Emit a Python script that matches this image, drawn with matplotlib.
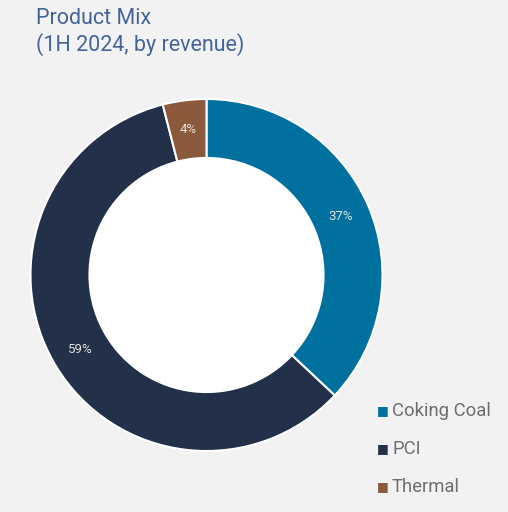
import numpy as np
import matplotlib.pyplot as plt
from matplotlib.patches import Circle

categories = ['Coking Coal', 'PCI', 'Thermal']
shares = [37, 59, 4]
colors = ['#00709E', '#22304A', '#8B5A3C']

BG = '#F2F2F2'

fig = plt.figure(figsize=(5.08, 5.12), dpi=100)
fig.patch.set_facecolor(BG)

# donut axes, placed so the ring centre sits at about (206, 275) px
cx, cy, R = 206.5, 275, 176
ax = fig.add_axes([(cx - R) / 508, (512 - cy - R) / 512, 2 * R / 508, 2 * R / 512])
ax.set_facecolor(BG)

ring = 0.335
wedges, texts = ax.pie(shares, colors=colors, startangle=90, counterclock=False,
                       radius=1.0,
                       wedgeprops=dict(width=ring, edgecolor='white', linewidth=1.5))
ax.add_patch(Circle((0, 0), 1.0 - ring, facecolor='white', edgecolor='none', zorder=0))

# percentage labels in the middle of the ring
for w, s in zip(wedges, shares):
    mid = np.deg2rad((w.theta1 + w.theta2) / 2)
    r = 1.0 - ring / 2
    ax.text(r * np.cos(mid), r * np.sin(mid), '{}%'.format(s),
            ha='center', va='center', color='#E2E2E2', fontsize=9.5,
            family='Roboto')
ax.set_xlim(-1, 1)
ax.set_ylim(-1, 1)
ax.set_aspect('equal')
ax.axis('off')

# title
fig.text(36 / 508, 1 - 19 / 512, 'Product Mix', ha='left', va='center',
         fontsize=15.5, color='#44659A', family='Roboto')
fig.text(36 / 508, 1 - 45 / 512, '(1H 2024, by revenue)', ha='left', va='center',
         fontsize=15.5, color='#44659A', family='Roboto')

# legend
for i, (name, c) in enumerate(zip(categories, colors)):
    y = 1 - (411 + 38 * i) / 512
    fig.text(383 / 508, y, '■', ha='center', va='center', fontsize=9, color=c,
             family='DejaVu Sans')
    fig.text(392 / 508, y, name, ha='left', va='center', fontsize=13.3,
             color='#6E6E6E', family='Roboto')

fig.savefig('out.png', dpi=100, facecolor=BG)
